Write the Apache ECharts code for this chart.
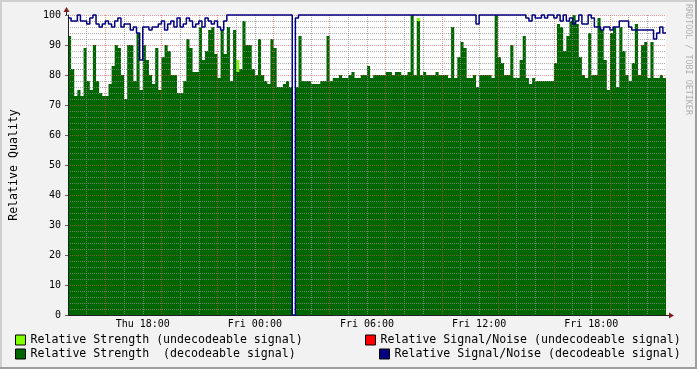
<!DOCTYPE html>
<html><head><meta charset="utf-8">
<script src="https://cdn.jsdelivr.net/npm/echarts@6/dist/echarts.min.js"></script>
<style>html,body{margin:0;padding:0;background:#F2F2F2}#c{width:697px;height:369px}</style>
</head><body><div id="c"></div>
<script>
// ---- data (hours since Thu 00:00, one sample every 10 minutes) ----
const startHour = 14;   // Thu 14:00
const endHour = 46;     // Fri 22:00
const stepHours = 1 / 6;

const strengthDecodeable = [
  93, 82, 73, 75, 73, 89, 78, 75, 90, 78,
  74, 73, 73, 77, 83, 90, 89, 80, 72, 90,
  90, 78, 94, 75, 90, 85, 80, 77, 89, 75,
  86, 90, 88, 80, 80, 74, 74, 78, 92, 89,
  81, 81, 96, 85, 88, 95, 96, 87, 79, 95,
  87, 96, 78, 95, 81, 82, 98, 90, 90, 82,
  80, 92, 80, 78, 77, 92, 89, 76, 76, 77,
  78, 76, 0, 76, 93, 78, 78, 78, 77, 77,
  77, 78, 78, 93, 78, 79, 79, 80, 79, 79,
  80, 81, 79, 79, 80, 80, 83, 79, 80, 80,
  80, 80, 81, 81, 80, 81, 81, 80, 80, 81,
  100, 80, 98, 80, 81, 80, 80, 80, 81, 80,
  80, 80, 79, 96, 79, 86, 91, 89, 79, 79,
  80, 76, 80, 80, 80, 80, 79, 100, 86, 84,
  80, 80, 90, 79, 79, 85, 93, 79, 77, 79,
  78, 78, 78, 78, 78, 78, 84, 97, 96, 88,
  93, 98, 100, 97, 86, 80, 79, 94, 80, 80,
  99, 95, 85, 75, 94, 96, 76, 96, 88, 80,
  78, 84, 97, 80, 90, 91, 79, 91, 79, 79,
  80, 79
];

const strengthUndecodeable = [
  0, 0, 0, 0, 0, 0, 0, 0, 0, 0,
  0, 0, 0, 0, 0, 0, 0, 0, 0, 0,
  0, 0, 0, 0, 0, 0, 0, 0, 0, 0,
  0, 0, 0, 0, 0, 0, 0, 0, 0, 0,
  0, 0, 0, 0, 0, 0, 0, 0, 0, 0,
  0, 0, 0, 0, 85, 0, 0, 0, 0, 0,
  0, 0, 0, 0, 0, 0, 0, 0, 0, 0,
  0, 0, 0, 0, 0, 0, 0, 0, 0, 0,
  0, 0, 0, 0, 0, 0, 0, 0, 0, 0,
  0, 0, 0, 0, 0, 0, 0, 0, 0, 0,
  0, 0, 0, 0, 0, 0, 0, 0, 0, 0,
  0, 0, 99, 0, 0, 0, 0, 0, 0, 0,
  0, 0, 0, 0, 0, 0, 0, 0, 0, 0,
  0, 0, 0, 0, 0, 0, 0, 0, 0, 0,
  0, 0, 0, 0, 0, 0, 0, 0, 0, 0,
  0, 0, 0, 0, 0, 0, 0, 0, 0, 0,
  0, 0, 0, 0, 0, 0, 0, 0, 0, 0,
  0, 0, 0, 0, 0, 0, 0, 0, 0, 0,
  0, 0, 0, 0, 0, 0, 0, 0, 0, 0,
  0, 0
];

const snrDecodeable = [
  99, 98, 98, 100, 98, 98, 97, 99, 100, 97,
  96, 97, 98, 97, 96, 98, 99, 96, 97, 97,
  95, 96, 94, 85, 96, 96, 95, 96, 96, 97,
  98, 95, 97, 98, 96, 99, 96, 97, 99, 98,
  96, 97, 98, 96, 99, 98, 97, 98, 96, 95,
  98, 100, 100, 100, 100, 100, 100, 100, 100, 100,
  100, 100, 100, 100, 100, 100, 100, 100, 100, 100,
  100, 100, 0, 99, 100, 100, 100, 100, 100, 100,
  100, 100, 100, 100, 100, 100, 100, 100, 100, 100,
  100, 100, 100, 100, 100, 100, 100, 100, 100, 100,
  100, 100, 100, 100, 100, 100, 100, 100, 100, 100,
  100, 100, 100, 100, 100, 100, 100, 100, 100, 100,
  100, 100, 100, 100, 100, 100, 100, 100, 100, 100,
  100, 97, 100, 100, 100, 100, 100, 100, 100, 100,
  100, 100, 100, 100, 100, 100, 100, 99, 98, 100,
  99, 99, 100, 99, 100, 100, 99, 100, 98, 100,
  98, 99, 97, 98, 100, 97, 97, 100, 99, 96,
  96, 95, 96, 96, 95, 96, 96, 98, 98, 98,
  96, 95, 95, 95, 95, 95, 95, 95, 92, 94,
  96, 94
];

const snrUndecodeable = [];

const seriesNames = [
  'Relative Strength (undecodeable signal)',
  'Relative Strength  (decodeable signal)',
  'Relative Signal/Noise (undecodeable signal)',
  'Relative Signal/Noise (decodeable signal)'
];

const tickHours = [18, 24, 30, 36, 42];
const tickLabels = ['Thu 18:00', 'Fri 00:00', 'Fri 06:00', 'Fri 12:00', 'Fri 18:00'];
const yTitle = 'Relative Quality';
const watermark = 'RRDTOOL / TOBI OETIKER';

// ---- styling ----
const MONO = '"DejaVu Sans Mono", monospace';
const minorGrid = 'rgba(143,143,143,0.75)';
const majorGrid = 'rgba(222,79,79,0.6)';
const arrowCol = '#801F1F';
const axisCol = '#1F1F1F';

function toPoints(arr) {
  const pts = arr.map((v, i) => [startHour + i * stepHours, v]);
  if (arr.length) pts.push([endHour, arr[arr.length - 1]]);
  return pts;
}

const chart = echarts.init(document.getElementById('c'), null, {renderer: 'canvas'});

const legendCommon = {
  orient: 'horizontal', padding: 0, itemWidth: 10, itemHeight: 10, itemGap: 0,
  icon: 'rect', selectedMode: false,
  itemStyle: {borderColor: '#000', borderWidth: 1},
  textStyle: {fontFamily: MONO, fontSize: 11.6, color: '#000'}
};

chart.setOption({
  animation: false,
  backgroundColor: '#F2F2F2',
  grid: {left: 66, right: 31, top: 15, bottom: 54, show: true, backgroundColor: '#FFFFFF', borderWidth: 0},
  legend: [
    Object.assign({data: [seriesNames[0]], left: 15, top: 334}, legendCommon),
    Object.assign({data: [seriesNames[1]], left: 15, top: 348}, legendCommon),
    Object.assign({data: [seriesNames[2]], left: 365, top: 334}, legendCommon),
    Object.assign({data: [seriesNames[3]], left: 379, top: 348}, legendCommon)
  ],
  xAxis: {
    type: 'value', min: startHour, max: endHour, interval: 1, z: 3,
    axisLine: {show: true, lineStyle: {color: axisCol, width: 1}},
    axisTick: {show: false},
    axisLabel: {
      margin: 4, fontFamily: MONO, fontSize: 10, color: '#000',
      formatter: function (v) {
        const k = tickHours.indexOf(Math.round(v));
        return k >= 0 ? tickLabels[k] : '';
      }
    },
    splitLine: {show: true, showMinLine: false, showMaxLine: false,
      lineStyle: {color: [minorGrid, majorGrid, minorGrid], type: [1, 1], width: 1}}
  },
  yAxis: {
    type: 'value', min: 0, max: 100, interval: 10, z: 3,
    name: yTitle, nameLocation: 'middle', nameGap: 48, nameRotate: 90,
    nameTextStyle: {fontFamily: MONO, fontSize: 11.6, color: '#000'},
    axisLine: {show: true, lineStyle: {color: axisCol, width: 1}},
    axisTick: {show: true, length: 3, lineStyle: {color: '#666'}},
    axisLabel: {margin: 7, fontFamily: MONO, fontSize: 10, color: '#000'},
    splitLine: {show: true, showMinLine: false, lineStyle: {color: majorGrid, type: [1, 1], width: 1}},
    minorTick: {show: false, splitNumber: 5},
    minorSplitLine: {show: true, lineStyle: {color: minorGrid, type: [1, 1], width: 1}}
  },
  series: [
    {
      name: seriesNames[0], type: 'line', step: 'end', data: toPoints(strengthUndecodeable),
      showSymbol: false, symbol: 'none', color: '#80FF00', z: 2,
      lineStyle: {width: 0}, areaStyle: {color: '#80FF00', opacity: 1}
    },
    {
      name: seriesNames[1], type: 'line', step: 'end', data: toPoints(strengthDecodeable),
      showSymbol: false, symbol: 'none', color: '#006600', z: 2,
      lineStyle: {width: 0}, areaStyle: {color: '#006600', opacity: 1}
    },
    {
      name: seriesNames[2], type: 'line', step: 'end', data: toPoints(snrUndecodeable),
      showSymbol: false, symbol: 'none', color: '#FF0000', z: 4, lineStyle: {width: 1.5}
    },
    {
      name: seriesNames[3], type: 'line', step: 'end', data: toPoints(snrDecodeable),
      showSymbol: false, symbol: 'none', color: '#000080', z: 4, clip: false,
      lineStyle: {width: 1.5, color: '#000080'}
    }
  ],
  graphic: [
    // frame shading
    {type: 'rect', shape: {x: 0, y: 0, width: 697, height: 2}, style: {fill: '#CFCFCF'}, silent: true},
    {type: 'rect', shape: {x: 0, y: 0, width: 2, height: 369}, style: {fill: '#CFCFCF'}, silent: true},
    {type: 'rect', shape: {x: 695, y: 0, width: 2, height: 369}, style: {fill: '#9E9E9E'}, silent: true},
    {type: 'rect', shape: {x: 0, y: 367, width: 697, height: 2}, style: {fill: '#9E9E9E'}, silent: true},
    // axis extensions and arrows
    {type: 'line', shape: {x1: 66.5, y1: 15, x2: 66.5, y2: 12}, style: {stroke: axisCol, lineWidth: 1}, silent: true},
    {type: 'polygon', shape: {points: [[63.5, 12], [69.5, 12], [66.5, 7]]}, style: {fill: arrowCol}, silent: true},
    {type: 'line', shape: {x1: 666, y1: 315.5, x2: 669, y2: 315.5}, style: {stroke: axisCol, lineWidth: 1}, silent: true},
    {type: 'polygon', shape: {points: [[669, 312.5], [669, 318.5], [674, 315.5]]}, style: {fill: arrowCol}, silent: true},
    // watermark
    {type: 'text', x: 688, y: 4, rotation: -Math.PI / 2, silent: true,
      style: {text: watermark, x: 0, y: 0, textAlign: 'left', textVerticalAlign: 'middle',
        font: '8.4px ' + MONO, fill: '#B0B0B0'}}
  ]
});
</script></body></html>
